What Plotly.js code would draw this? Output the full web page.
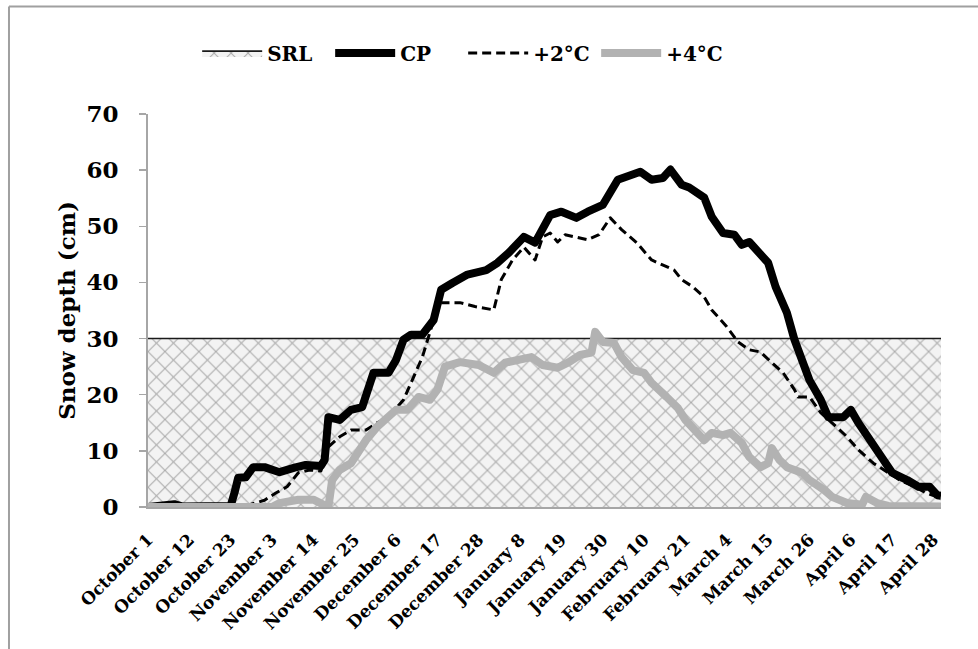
<!DOCTYPE html>
<html>
<head>
<meta charset="utf-8">
<script src="https://cdn.plot.ly/plotly-3.0.1.min.js"></script>
<style>
html,body{margin:0;padding:0;background:#fff;}
#chart{width:978px;height:649px;}
.scatterlayer path.js-line{stroke-linejoin:round;}
</style>
</head>
<body>
<div id="chart"></div>
<script>
// Day index counted from October 1 (0) to April 30 (211)
const tickDays = [0,11,22,33,44,55,66,77,88,99,110,121,132,143,154,165,176,187,198,209];
const tickLabels = ["October 1","October 12","October 23","November 3","November 14","November 25","December 6","December 17","December 28","January 8","January 19","January 30","February 10","February 21","March 4","March 15","March 26","April 6","April 17","April 28"];

const srlDays = [0, 211];
const srlVals = [30, 30];

const cpDays = [0,5,7,9,22,23,24,26,28,31,33,35,39,42,46,47,48,51,54,57,60,64,66,68,70,73,76,78,81,85,90,93,96,100,103,107,110,114,117,121,125,131,134,137,139,142,144,148,150,153,156,158,160,163,165,167,170,172,174,176,179,181,185,187,189,192,195,198,202,205,208,210,211];
const cpVals = [0,0.3,0.5,0.1,0.2,2.5,5.2,5.3,7.1,7.1,6.8,6.2,7.0,7.5,7.3,8.4,16.0,15.5,17.3,17.8,23.9,23.9,26.2,29.8,30.7,30.7,33.3,38.7,39.9,41.4,42.2,43.5,45.3,48.1,47.1,52.0,52.6,51.5,52.6,53.8,58.3,59.7,58.3,58.6,60.1,57.4,56.9,55.1,51.7,48.8,48.5,46.7,47.2,44.9,43.5,39.2,34.6,29.8,26.2,22.6,19.1,16.0,16.0,17.3,15.0,11.9,8.9,6.1,4.8,3.6,3.6,2.1,2.0];

const p2Days = [0,25,31,34,37,40,43,46,48,51,54,58,61,64,68,70,73,76,78,83,87,92,94,97,100,103,105,107,109,111,114,117,120,123,126,130,134,137,140,142,145,148,150,154,157,160,163,166,169,172,173,176,179,182,186,189,193,197,200,204,207,210,211];
const p2Vals = [0,0,1.2,2.5,3.6,6.1,6.6,6.4,10.7,12.5,13.7,13.7,15.0,16.0,19.1,22.1,26.7,33.3,36.4,36.4,35.7,35.1,40.5,44.0,46.3,44.0,48.1,48.8,47.2,48.5,48.1,47.6,48.5,51.5,49.4,47.1,44.0,43.1,42.2,40.5,39.2,37.4,35.1,32.1,29.4,28.0,27.6,25.7,23.9,20.9,19.6,19.6,16.8,15.0,12.5,10.2,7.8,6.1,4.8,3.6,2.5,1.8,1.7];

const p4Days = [0,33,35,40,44,47,48,49,51,54,56,58,61,64,66,69,72,75,77,79,83,88,92,95,99,102,105,109,112,115,118,119,121,124,126,129,132,134,138,141,143,146,148,150,153,155,158,160,163,165,166,168,170,174,176,180,182,186,190,191,194,197,211];
const p4Vals = [0,0,0.7,1.3,1.3,0.2,0,4.8,6.6,7.8,10.2,11.9,14.3,16.0,17.3,17.3,19.6,19.1,20.9,25.0,25.8,25.3,23.9,25.7,26.2,26.7,25.3,24.8,25.8,27.1,27.5,31.2,29.4,29.2,26.7,24.4,23.9,22.1,19.6,17.6,15.5,13.4,11.9,13.2,12.8,13.2,11.4,8.9,7.1,7.8,10.5,8.4,7.1,6.1,4.8,3.0,1.8,0.7,0.4,1.8,0.7,0.2,0.1];

const traces = [
  {x: srlDays, y: srlVals, name: 'SRL', type: 'scatter', mode: 'lines', fill: 'tozeroy',
   fillcolor: '#f3f3f3',
   fillpattern: {shape: 'x', size: 12, solidity: 0.16, bgcolor: '#f3f3f3', fgcolor: '#a9a9a9', fgopacity: 1},
   line: {color: '#1a1a1a', width: 1.6}},
  {x: cpDays, y: cpVals, name: 'CP', type: 'scatter', mode: 'lines',
   line: {color: '#000000', width: 8}},
  {x: p2Days, y: p2Vals, name: '+2°C', type: 'scatter', mode: 'lines',
   line: {color: '#000000', width: 3, dash: '9px,5px'}},
  {x: p4Days, y: p4Vals, name: '+4°C', type: 'scatter', mode: 'lines',
   line: {color: '#b2b2b2', width: 8}}
];

const layout = {
  width: 978, height: 649,
  margin: {l: 148, r: 37, t: 114, b: 142},
  paper_bgcolor: '#ffffff', plot_bgcolor: '#ffffff',
  font: {family: 'DejaVu Serif', color: '#000000', size: 16, weight: 'bold'},
  showlegend: true,
  legend: {orientation: 'h', x: 0.062, xanchor: 'left', y: 1.155, yanchor: 'middle',
           font: {family: 'DejaVu Serif', size: 20, weight: 'bold', color: '#000'},
           itemwidth: 60, entrywidth: 58, entrywidthmode: 'pixels', traceorder: 'normal'},
  xaxis: {
    range: [0, 211], tickmode: 'array', tickvals: tickDays, ticktext: tickLabels,
    tickangle: -45, ticks: '', showgrid: false, zeroline: false,
    showline: true, linecolor: '#a6a6a6', linewidth: 2, ticklabelstandoff: 14,
    tickfont: {family: 'DejaVu Serif', size: 17, weight: 'bold', color: '#000'}
  },
  yaxis: {
    range: [0, 70], dtick: 10, tick0: 0, ticks: 'outside', ticklen: 7, tickwidth: 1.5,
    tickcolor: '#a6a6a6', showgrid: false, zeroline: false,
    showline: true, linecolor: '#a6a6a6', linewidth: 2, ticklabelstandoff: 16,
    tickfont: {family: 'DejaVu Serif', size: 23, weight: 'bold', color: '#000'},
    title: {text: 'Snow depth (cm)', font: {family: 'DejaVu Serif', size: 23, weight: 'bold', color: '#000'}, standoff: 4}
  },
  shapes: [
    {type: 'line', xref: 'paper', yref: 'paper', x0: -0.1753, x1: -0.1753, y0: -0.37, y1: 1.2735,
     line: {color: '#a0a0a0', width: 2}},
    {type: 'line', xref: 'paper', yref: 'paper', x0: -0.1753, x1: 1.06, y0: 1.2735, y1: 1.2735,
     line: {color: '#a0a0a0', width: 2}}
  ]
};

Plotly.newPlot('chart', traces, layout, {staticPlot: true, displayModeBar: false});
</script>
</body>
</html>
